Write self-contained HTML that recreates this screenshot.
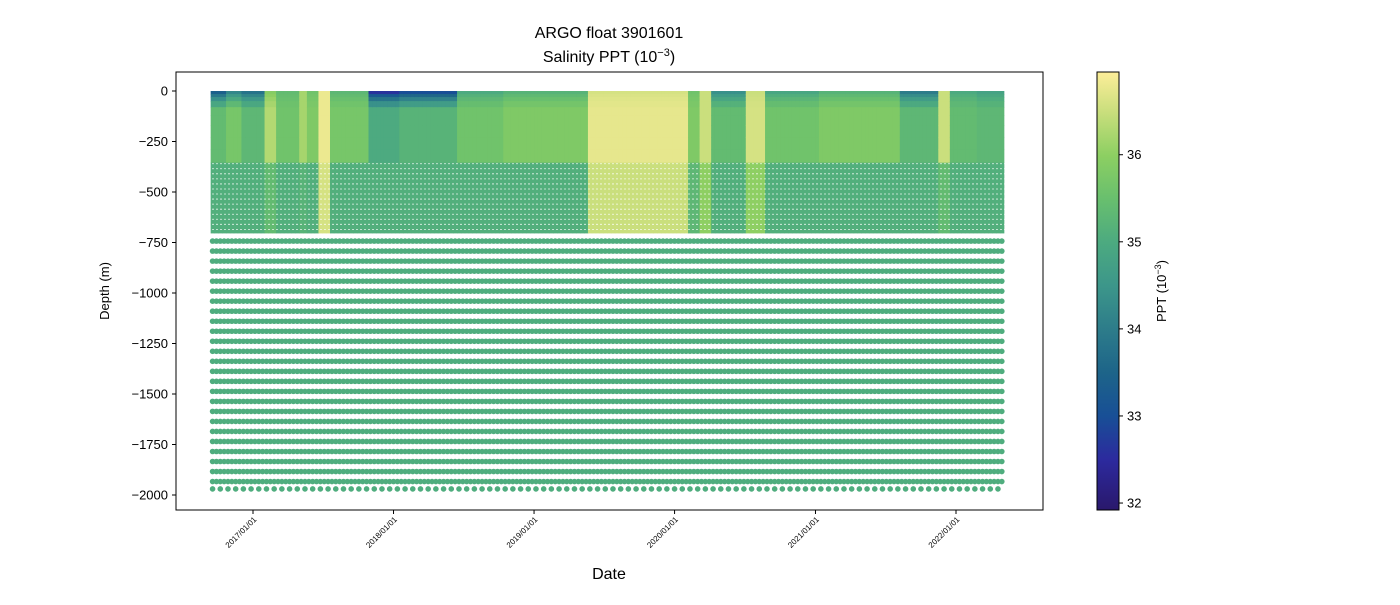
<!DOCTYPE html>
<html><head><meta charset="utf-8">
<style>
body{margin:0;background:#fff;font-family:"Liberation Sans","DejaVu Sans",sans-serif;}
#wrap{position:relative;width:1400px;height:600px;}
svg text{font-family:"Liberation Sans","DejaVu Sans",sans-serif;fill:#000;}
</style></head>
<body>
<div id="wrap">
<svg id="svg" width="1400" height="600" xmlns="http://www.w3.org/2000/svg">
<defs>
<linearGradient id="cbgrad" x1="0" y1="1" x2="0" y2="0">
<stop offset="0" stop-color="#2a186c"/>
<stop offset="0.115" stop-color="#2c2a9e"/>
<stop offset="0.214" stop-color="#184f96"/>
<stop offset="0.313" stop-color="#1d6489"/>
<stop offset="0.412" stop-color="#2d7c8a"/>
<stop offset="0.511" stop-color="#3c968a"/>
<stop offset="0.61" stop-color="#4caa80"/>
<stop offset="0.709" stop-color="#68bf6e"/>
<stop offset="0.808" stop-color="#8ccf62"/>
<stop offset="0.907" stop-color="#c8de7c"/>
<stop offset="1" stop-color="#fdee99"/>
</linearGradient>
<clipPath id="clip"><rect x="176" y="72" width="867" height="438"/></clipPath>
</defs>
<g id="marks" clip-path="url(#clip)"></g>
<rect x="176" y="72" width="867" height="438" fill="none" stroke="#000" stroke-width="1"/>
<g id="axes"></g>
<text x="609" y="38" font-size="16" text-anchor="middle">ARGO float 3901601</text>
<text x="609" y="62" font-size="16" text-anchor="middle">Salinity PPT (10<tspan dy="-6" font-size="11">−3</tspan><tspan dy="6">)</tspan></text>
<text x="609" y="579" font-size="16" text-anchor="middle">Date</text>
<text transform="translate(109,291) rotate(-90)" font-size="13" text-anchor="middle">Depth (m)</text>
<rect x="1097" y="72" width="22" height="438" fill="url(#cbgrad)" stroke="#000" stroke-width="1"/>
<text transform="translate(1166,291) rotate(-90)" font-size="13" text-anchor="middle">PPT (10<tspan dy="-5" font-size="9">−3</tspan><tspan dy="5">)</tspan></text>
</svg>
</div>
<script>
// ---- data ----
const bandStart = ["2016-09-15","2016-10-20","2016-12-01","2017-02-01","2017-03-07","2017-05-05","2017-05-20","2017-06-24","2017-07-24","2017-10-30","2018-01-15","2018-06-20","2018-10-15","2019-05-25","2020-02-10","2020-03-08","2020-04-05","2020-07-01","2020-08-22","2021-01-15","2021-08-07","2021-11-20","2021-12-15","2022-02-20"];
const surfSal  = [33.4,34.2,33.8,35.9,35.4,36.2,35.6,36.8,35.3,32.6,33.0,35.0,35.2,36.6,35.6,36.5,34.4,36.5,34.9,35.2,34.0,36.5,35.0,34.8];
const upperSal = [35.4,35.7,35.3,36.3,35.6,36.2,35.8,36.8,35.7,35.0,35.2,35.6,35.8,36.75,35.8,36.5,35.4,36.6,35.6,35.8,35.3,36.5,35.4,35.3];
const midSal   = [35.1,35.1,35.1,35.4,35.1,35.2,35.1,36.6,35.1,35.1,35.1,35.1,35.1,36.5,35.3,36.0,35.1,36.0,35.1,35.1,35.1,35.4,35.1,35.1];
const deepSal = 35.05;
const firstProfile = "2016-09-18", lastProfile = "2022-05-08", cycleDays = 10;
const yTicks = [0,-250,-500,-750,-1000,-1250,-1500,-1750,-2000];
const xTickLabels = ["2017/01/01","2018/01/01","2019/01/01","2020/01/01","2021/01/01","2022/01/01"];
const cbTicks = [32,33,34,35,36];

// ---- scales ----
const t0 = Date.parse("2017-01-01"), t1 = Date.parse("2022-01-01");
function xScale(d){ const t = typeof d==="number"?d:Date.parse(d); return 253 + (t - t0)/(t1 - t0)*(956-253); }
function yScale(v){ return 91 - v*0.202; }
const cMin = 31.92, cMax = 36.95;
function cbScale(v){ return 510 - (v-cMin)/(cMax-cMin)*438; }
const stops = [[0,[42,24,108]],[0.115,[44,42,158]],[0.214,[24,79,150]],[0.313,[29,100,137]],[0.412,[45,124,138]],[0.511,[60,150,138]],[0.61,[76,170,128]],[0.709,[104,191,110]],[0.808,[140,207,98]],[0.907,[200,222,124]],[1,[253,238,153]]];
function color(v){
  let f=(v-cMin)/(cMax-cMin); f=Math.max(0,Math.min(1,f));
  for(let i=1;i<stops.length;i++){ if(f<=stops[i][0]){ const a=stops[i-1],b=stops[i]; const k=(f-a[0])/(b[0]-a[0]);
    return "rgb("+a[1].map((c,j)=>Math.round(c+(b[1][j]-c)*k)).join(",")+")"; } }
  return "rgb(253,238,153)";
}
function bandIndex(t){ let idx=0; for(let i=0;i<bandStart.length;i++){ if(t>=Date.parse(bandStart[i])) idx=i; } return idx; }

const NS="http://www.w3.org/2000/svg";
const marks=document.getElementById("marks");
const axes=document.getElementById("axes");
function mk(tag,attrs,parent){ const e=document.createElementNS(NS,tag); for(const k in attrs) e.setAttribute(k,attrs[k]); parent.appendChild(e); return e; }

// ---- profiles ----
const tStart=Date.parse(firstProfile), tEnd=Date.parse(lastProfile);
const day=86400000;
const w = cycleDays*day/(t1-t0)*(956-253);
for(let t=tStart;t<=tEnd;t+=cycleDays*day){
  const b=bandIndex(t);
  const x=xScale(t);
  const g=mk("g",{},marks);
  
  
  const steps=[0,-15,-30,-50,-80,-120,-170,-230,-290,-355];
  for(let i=0;i<steps.length-1;i++){
    const k=Math.min(1,i/4);
    const s=surfSal[b]+(upperSal[b]-surfSal[b])*k;
    const r=mk("rect",{x:x-w/2,y:yScale(steps[i]),width:w+0.6,height:yScale(steps[i+1])-yScale(steps[i])+0.5,fill:color(s)},g);
    
    
  }
  const mr=mk("rect",{x:x-w/2,y:yScale(-355),width:w+0.6,height:yScale(-705)-yScale(-355),fill:color(midSal[b])},g);
  
  
  for(let d=-743;d>=-1940;d-=49.6){
    const c=mk("circle",{cx:x,cy:yScale(d),r:2.8,fill:color(deepSal)},g);
    
    
  }
  if(Math.round((t-tStart)/day/cycleDays)%2===0){
    const c=mk("circle",{cx:x,cy:yScale(-1970),r:2.8,fill:color(deepSal)},g);
    
    
  }
}
for(let d=-360;d>=-700;d-=25){
  const l=mk("line",{x1:176,x2:1043,y1:yScale(d),y2:yScale(d),stroke:"#fff","stroke-width":0.8,"stroke-dasharray":"2 2",opacity:0.85},marks);
  
  
}

// ---- axes ----
yTicks.forEach(v=>{
  const y=yScale(v);
  const l=mk("line",{x1:172,x2:176,y1:y,y2:y,stroke:"#000"},axes);
  
  
  const tx=mk("text",{x:168,y:y+4.5,"font-size":13,"text-anchor":"end"},axes);
  tx.textContent=v===0?"0":"−"+Math.abs(v);
  
  
});
xTickLabels.forEach(s=>{
  const x=xScale(s.replace(/\//g,"-"));
  const l=mk("line",{x1:x,x2:x,y1:510,y2:514,stroke:"#000"},axes);
  
  
  const tx=mk("text",{transform:"translate("+(x+4)+",520) rotate(-45)","font-size":8,"text-anchor":"end"},axes);
  tx.textContent=s;
  
  
});
cbTicks.forEach(v=>{
  const y=cbScale(v);
  const l=mk("line",{x1:1119,x2:1123,y1:y,y2:y,stroke:"#000"},axes);
  
  
  const tx=mk("text",{x:1127,y:y+4.5,"font-size":13},axes);
  tx.textContent=v;
  
  
});
</script>
</body></html>
